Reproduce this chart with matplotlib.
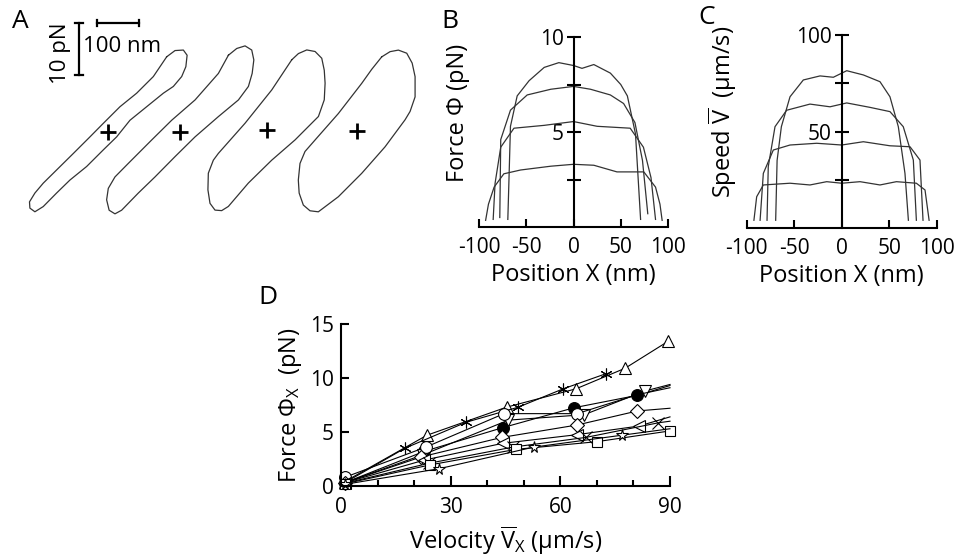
import numpy as np
import matplotlib.pyplot as plt
from matplotlib.ticker import FixedLocator

plt.rcParams['font.family'] = ['Open Sans', 'DejaVu Sans']
plt.rcParams['mathtext.fontset'] = 'custom'
plt.rcParams['mathtext.rm'] = 'Open Sans'
plt.rcParams['mathtext.it'] = 'Open Sans:italic'
plt.rcParams['axes.unicode_minus'] = False

W, H = 957, 559
LINE = '#333333'
TICK_FS = 15
LABEL_FS = 17

# ---- panel A: force/position loops (nm, pN) relative to each loop centre
loop1_x = [140, 160, 180, 189, 186, 176, 156, 132, 92, 52, 20, -12, -52, -92, -124,
           -156, -176, -188, -189, -176, -156, -132, -84, -44, -12, 28, 68, 108, 124]
loop1_f = [14.4, 15.6, 15.7, 14.7, 12.5, 10.6, 8.7, 7.4, 4.8, 2.2, -1.0, -3.5, -6.7, -9.3,
           -11.8, -14.4, -15.4, -14.7, -13.5, -11.8, -9.9, -8.0, -4.2, -1.0, 1.6, 4.8, 7.4,
           10.6, 12.5]
loop2_x = [116, 136, 156, 172, 177, 173, 164, 140, 92, 36, -12, -60, -100, -140, -156,
           -170, -176, -172, -156, -124, -68, -20, 36, 92]
loop2_f = [14.7, 16.0, 16.5, 15.7, 13.8, 11.2, 8.7, 6.1, 2.9, -1.0, -4.8, -8.7, -11.8,
           -15.1, -15.8, -15.1, -13.1, -10.9, -8.7, -6.1, -1.6, 2.2, 6.1, 11.2]
loop3_x = [60, 76, 96, 116, 132, 138, 140, 138, 124, 68, 12, -44, -92, -108, -124, -136,
           -141, -140, -128, -116, -52, 12, 36]
loop3_f = [13.5, 14.7, 15.4, 15.1, 13.8, 11.5, 9.0, 5.8, 2.6, -1.9, -5.8, -10.2, -14.7,
           -15.5, -15.4, -14.1, -11.5, -8.3, -5.8, -4.5, 1.3, 7.7, 10.6]
loop4_x = [60, 80, 100, 120, 133, 140, 140, 128, 116, 68, 12, -44, -92, -112, -128, -138,
           -140, -136, -124, -100, -44, 12, 36]
loop4_f = [14.2, 15.2, 15.5, 14.9, 13.0, 10.4, 6.5, 3.7, 2.1, -3.1, -8.2, -12.7, -15.6,
           -15.4, -14.3, -12.0, -9.5, -6.3, -4.0, -1.8, 3.3, 9.1, 11.8]

# ---- panel B: force profiles
b1_x = [-69.5, -68, -66.7, -59.6, -47, -31, -15.5, 0, 9, 21.5, 39, 50, 57, 65.6, 71]
b1_y = [0.4, 3.0, 5.3, 6.9, 7.7, 8.4, 8.65, 8.5, 8.35, 8.55, 8.1, 7.5, 6.9, 4.9, 0.4]
b2_x = [-78, -77.5, -77, -66.7, -49, -24, 0, 18, 39, 53, 65, 73, 78.6]
b2_y = [0.5, 2.5, 4.6, 6.15, 6.95, 7.25, 7.4, 7.25, 6.95, 6.5, 5.5, 3.5, 0.7]
b3_x = [-85, -83, -77, -63, -31, 0, 25, 60, 74, 82, 86.8]
b3_y = [0.4, 2.3, 4.2, 5.2, 5.35, 5.55, 5.3, 5.2, 4.2, 2.6, 0.4]
b4_x = [-93, -90, -84, -73.7, -56, -24, 0, 21.5, 46, 74.4, 86.8, 91.5, 93.8]
b4_y = [0.35, 1.2, 2.1, 2.8, 3.0, 3.2, 3.3, 3.25, 2.9, 2.9, 2.1, 1.2, 0.35]

# ---- panel C: speed profiles
c1_x = [-69.5, -68, -63.5, -54.4, -40.4, -22.8, -8.8, 5.3, 22.8, 40.3, 50.8, 59.6, 66.6, 70.2]
c1_y = [4, 35, 52.5, 68, 76.7, 78.8, 78.1, 81.5, 79.3, 75.8, 68, 52.5, 28.3, 4]
c2_x = [-78.6, -77.3, -70.2, -58, -33.4, -12.3, 5.3, 29.8, 50.8, 64.8, 75.4, 78.6]
c2_y = [4, 31.8, 52.5, 61, 64.2, 62.8, 64.8, 62.5, 60.3, 52.5, 35.2, 4]
c3_x = [-85.9, -82.5, -72, -54.4, -26.3, 0, 22.8, 50.8, 71.9, 82.4, 85.6]
c3_y = [4, 28.3, 40.4, 43, 43.9, 43, 44.7, 42.6, 42.1, 35.2, 4]
c4_x = [-92.4, -89.5, -82.5, -54.4, -33.4, -15.8, 0, 19.3, 40.3, 57.6, 78.6, 87.7, 92]
c4_y = [4, 16.2, 22.3, 23.2, 22.3, 24, 23.2, 24, 22.3, 24, 23.2, 19.7, 4]

# ---- panel D: force vs velocity
d_tri_up_v = [1, 23.5, 45.3, 64.3, 77.7, 89.5]
d_tri_up_f = [0.4, 4.7, 7.3, 9.0, 10.9, 13.4]
d_ast_v = [1, 17.5, 34.2, 48.5, 60.8, 72.5]
d_ast_f = [0.3, 3.5, 5.9, 7.3, 9.0, 10.4]
d_dot_v = [1, 22.7, 44.2, 63.8, 81.1, 90]
d_dot_f = [0.3, 3.2, 5.4, 7.25, 8.4, 9.3]
d_tri_dn_v = [1, 22.5, 45.8, 66.5, 83.2, 90]
d_tri_dn_f = [0.3, 2.9, 6.1, 6.6, 8.8, 9.4]
d_circ_v = [1, 23.2, 44.6, 64.6, 81, 90]
d_circ_f = [0.8, 3.6, 6.7, 6.7, 8.45, 9.1]
d_dia_v = [1, 22, 44, 64.6, 81.1, 90]
d_dia_f = [0.3, 2.7, 4.5, 5.65, 6.95, 7.2]
d_tri_l_v = [1, 22.8, 44.2, 64.5, 81.5, 90]
d_tri_l_f = [0.3, 2.4, 3.95, 4.75, 5.55, 6.4]
d_x_v = [1, 24, 47, 67, 86.8, 90]
d_x_f = [0.25, 2.1, 3.6, 4.5, 5.85, 6.0]
d_sq_v = [1, 24.3, 48, 69.9, 90]
d_sq_f = [0.2, 1.95, 3.4, 4.1, 5.1]
d_star_v = [1, 26.8, 52.7, 76.8, 90]
d_star_f = [0.15, 1.6, 3.6, 4.7, 5.3]


def px_axes(fig, left, top, right, bottom):
    return fig.add_axes([left / W, 1 - bottom / H, (right - left) / W, (bottom - top) / H])


fig = plt.figure(figsize=(W / 100, H / 100), dpi=100)

# ---------------- A
axA = px_axes(fig, 0, 0, 430, 240)
axA.set_xlim(0, 430 / 0.417)
axA.set_ylim(0, 240 / 5.2)
axA.axis('off')
centres = [(259.7, 20.83), (431.7, 20.83), (639.6, 21.15), (855.4, 21.02)]
loops = [(loop1_x, loop1_f), (loop2_x, loop2_f), (loop3_x, loop3_f), (loop4_x, loop4_f)]
for (cx, cy), (lx, lf) in zip(centres, loops):
    xs = np.array(lx + lx[:1]) + cx
    ys = np.array(lf + lf[:1]) + cy
    axA.plot(xs, ys, color=LINE, lw=0.9, solid_joinstyle='round')
    axA.plot(cx, cy, marker='+', ms=12, mew=2, color='black')
# scale bars
axA.plot([232.6, 332.6], [41.7, 41.7], color='black', lw=1.6)
axA.plot([232.6, 232.6], [41.1, 42.3], color='black', lw=1.6)
axA.plot([332.6, 332.6], [41.1, 42.3], color='black', lw=1.6)
axA.plot([189.4, 189.4], [31.7, 41.7], color='black', lw=1.6)
axA.plot([180, 199], [41.7, 41.7], color='black', lw=1.6)
axA.plot([180, 199], [31.7, 31.7], color='black', lw=1.6)
axA.text(198, 37.3, '100 nm', fontsize=16, ha='left', va='center')
axA.text(144, 36.0, '10 pN', fontsize=16, ha='center', va='center', rotation=90)
fig.text(20 / W, 1 - 22 / H, 'A', fontsize=19, ha='center', va='center')


def profile_axes(ax, ymax, ylabel, lab_xy):
    ax.set_xlim(-100, 100)
    ax.set_ylim(0, ymax)
    for s in ['top', 'right']:
        ax.spines[s].set_visible(False)
    ax.spines['left'].set_position(('data', 0))
    for s in ['left', 'bottom']:
        ax.spines[s].set_linewidth(1.5)
    ax.set_xticks([-100, -50, 0, 50, 100])
    ax.set_yticks([ymax / 2, ymax])
    ax.yaxis.set_minor_locator(FixedLocator([ymax / 4, 3 * ymax / 4]))
    ax.set_yticklabels([f'{ymax // 2:g}', f'{ymax:g}'])
    ax.tick_params(axis='x', direction='in', length=6, width=1.5, labelsize=TICK_FS, pad=7)
    ax.tick_params(axis='y', which='both', direction='inout', length=10, width=1.5,
                   labelsize=TICK_FS, pad=2)
    ax.set_xlabel('Position X (nm)', fontsize=LABEL_FS, labelpad=4)
    ax.set_ylabel(ylabel, fontsize=LABEL_FS)
    ax.yaxis.set_label_coords(*lab_xy)
    ax.patch.set_alpha(0)


# ---------------- B
axB = px_axes(fig, 479, 37, 668, 227)
for xs, ys in [(b1_x, b1_y), (b2_x, b2_y), (b3_x, b3_y), (b4_x, b4_y)]:
    axB.plot(xs, ys, color=LINE, lw=0.9)
profile_axes(axB, 10, 'Force Φ (pN)', (-0.045, 0.6))
fig.text(450 / W, 1 - 22 / H, 'B', fontsize=19, ha='center', va='center')

# ---------------- C
axC = px_axes(fig, 746.7, 35, 936.7, 228)
for xs, ys in [(c1_x, c1_y), (c2_x, c2_y), (c3_x, c3_y), (c4_x, c4_y)]:
    axC.plot(xs, ys, color=LINE, lw=0.9)
profile_axes(axC, 100, r'Speed $\overline{\mathrm{V}}$  (µm/s)', (-0.04, 0.6))
fig.text(707 / W, 1 - 17 / H, 'C', fontsize=19, ha='center', va='center')

# ---------------- D
axD = px_axes(fig, 341, 324, 670, 486)
mk = dict(color='black', lw=0.8, mec='black', mew=0.8, ms=8.5, clip_on=False)
axD.plot(d_tri_up_v, d_tri_up_f, marker='^', mfc='white', **mk)
axD.plot(d_ast_v, d_ast_f, marker=(6, 2, 0), mfc='white', **mk)
axD.plot(d_dot_v, d_dot_f, marker='o', mfc='black', markevery=[0, 1, 2, 3, 4], **mk)
axD.plot(d_tri_dn_v, d_tri_dn_f, marker='v', mfc='white', markevery=[0, 1, 2, 3, 4], **mk)
axD.plot(d_circ_v, d_circ_f, marker='o', mfc='white', markevery=[0, 1, 2, 3], **mk)
axD.plot(d_dia_v, d_dia_f, marker='D', mfc='white', markevery=[0, 1, 2, 3, 4],
         **{**mk, 'ms': 7})
axD.plot(d_tri_l_v, d_tri_l_f, marker='<', mfc='white', markevery=[0, 1, 2, 3, 4], **mk)
axD.plot(d_x_v, d_x_f, marker='x', mfc='white', markevery=[0, 1, 2, 3, 4], **mk)
axD.plot(d_sq_v, d_sq_f, marker='s', mfc='white', **{**mk, 'ms': 7.5})
axD.plot(d_star_v, d_star_f, marker='*', mfc='white', markevery=[0, 1, 2, 3], **mk)
axD.set_xlim(0, 90)
axD.set_ylim(0, 15)
for s in ['top', 'right']:
    axD.spines[s].set_visible(False)
for s in ['left', 'bottom']:
    axD.spines[s].set_linewidth(1.5)
axD.set_xticks([0, 30, 60, 90])
axD.xaxis.set_minor_locator(FixedLocator([10, 20, 40, 50, 70, 80]))
axD.set_yticks([0, 5, 10, 15])
axD.tick_params(axis='x', which='major', direction='in', length=7, width=1.5,
                labelsize=TICK_FS, pad=8)
axD.tick_params(axis='x', which='minor', direction='in', length=4, width=1.5)
axD.tick_params(axis='y', direction='in', length=6, width=1.5, labelsize=TICK_FS, pad=5)
axD.set_xlabel(r'Velocity $\overline{\mathrm{V}}_{\mathrm{X}}$ (µm/s)', fontsize=LABEL_FS,
               labelpad=4)
axD.set_ylabel(r'Force Φ$_{\mathrm{X}}$  (pN)', fontsize=LABEL_FS, labelpad=4)
fig.text(268 / W, 1 - 298 / H, 'D', fontsize=19, ha='center', va='center')

fig.savefig('out.png', dpi=100)
